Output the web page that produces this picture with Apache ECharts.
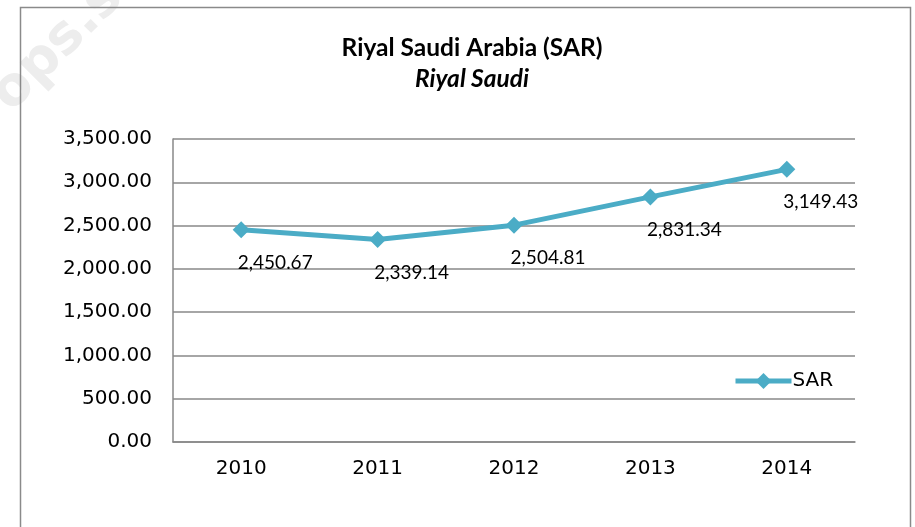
<!DOCTYPE html>
<html>
<head>
<meta charset="utf-8">
<script src="https://cdn.jsdelivr.net/npm/echarts@6/dist/echarts.min.js"></script>
<style>
  html, body { margin: 0; padding: 0; background: #fff; }
  #chart { width: 915px; height: 527px; }
</style>
</head>
<body>
<div id="chart"></div>
<script>
// Annual SAR exchange rate values
const years = ['2010', '2011', '2012', '2013', '2014'];
const sarValues = [2450.67, 2339.14, 2504.81, 2831.34, 3149.43];
const yTicks = [0, 500, 1000, 1500, 2000, 2500, 3000, 3500];

const fmt = v => v.toLocaleString('en-US', { minimumFractionDigits: 2, maximumFractionDigits: 2 });

const chart = echarts.init(document.getElementById('chart'));
chart.setOption({
  backgroundColor: '#ffffff',
  animation: false,
  title: {
    text: 'Riyal Saudi Arabia (SAR)',
    subtext: 'Riyal Saudi',
    left: 467,
    textAlign: 'center',
    top: 31,
    itemGap: 6,
    textStyle: { fontFamily: 'Lato', fontWeight: 'bold', fontSize: 24.5, color: '#000' },
    subtextStyle: { fontFamily: 'Lato', fontWeight: 'bold', fontStyle: 'italic', fontSize: 24.5, color: '#000' }
  },
  legend: {
    left: 728,
    top: 366,
    itemWidth: 56,
    itemHeight: 20,
    itemGap: 4,
    lineStyle: { width: 5 },
    textStyle: { fontFamily: 'DejaVu Sans', fontSize: 20, color: '#000', padding: [0, 0, 0, -4] },
    data: ['SAR']
  },
  grid: { left: 173, right: 60, top: 139, bottom: 85, containLabel: false },
  xAxis: {
    type: 'category',
    data: years,
    boundaryGap: true,
    axisLine: { lineStyle: { color: '#888', width: 1.5 } },
    axisTick: { show: false },
    axisLabel: { fontFamily: 'DejaVu Sans', fontSize: 20, color: '#000', margin: 17 }
  },
  yAxis: {
    type: 'value',
    min: yTicks[0],
    max: yTicks[yTicks.length - 1],
    interval: 500,
    axisLine: { show: true, lineStyle: { color: '#888', width: 1.5 } },
    axisTick: { show: false },
    splitLine: { lineStyle: { color: '#888', width: 1.5 } },
    axisLabel: { fontFamily: 'DejaVu Sans', fontSize: 20, color: '#000', margin: 21, formatter: fmt }
  },
  graphic: [
    {
      type: 'rect',
      shape: { x: 20.5, y: 7.5, width: 890, height: 540 },
      style: { fill: 'none', stroke: '#8a8a8a', lineWidth: 1.5 },
      silent: true
    },
    {
      type: 'text',
      x: -18, y: 84,
      rotation: Math.PI / 4,
      style: { text: 'ops.s', fontFamily: 'DejaVu Sans', fontWeight: 'bold', fontSize: 54, fill: '#ededed' },
      silent: true,
      z: -1
    }
  ],
  series: [{
    name: 'SAR',
    type: 'line',
    data: sarValues,
    symbol: 'diamond',
    symbolSize: 17,
    itemStyle: { color: '#4bacc6' },
    lineStyle: { color: '#4bacc6', width: 5 },
    label: {
      show: true,
      position: 'bottom',
      offset: [34, 7],
      distance: 8,
      fontFamily: 'Lato',
      fontSize: 19,
      color: '#000',
      formatter: p => fmt(p.value)
    }
  }]
});
</script>
</body>
</html>
